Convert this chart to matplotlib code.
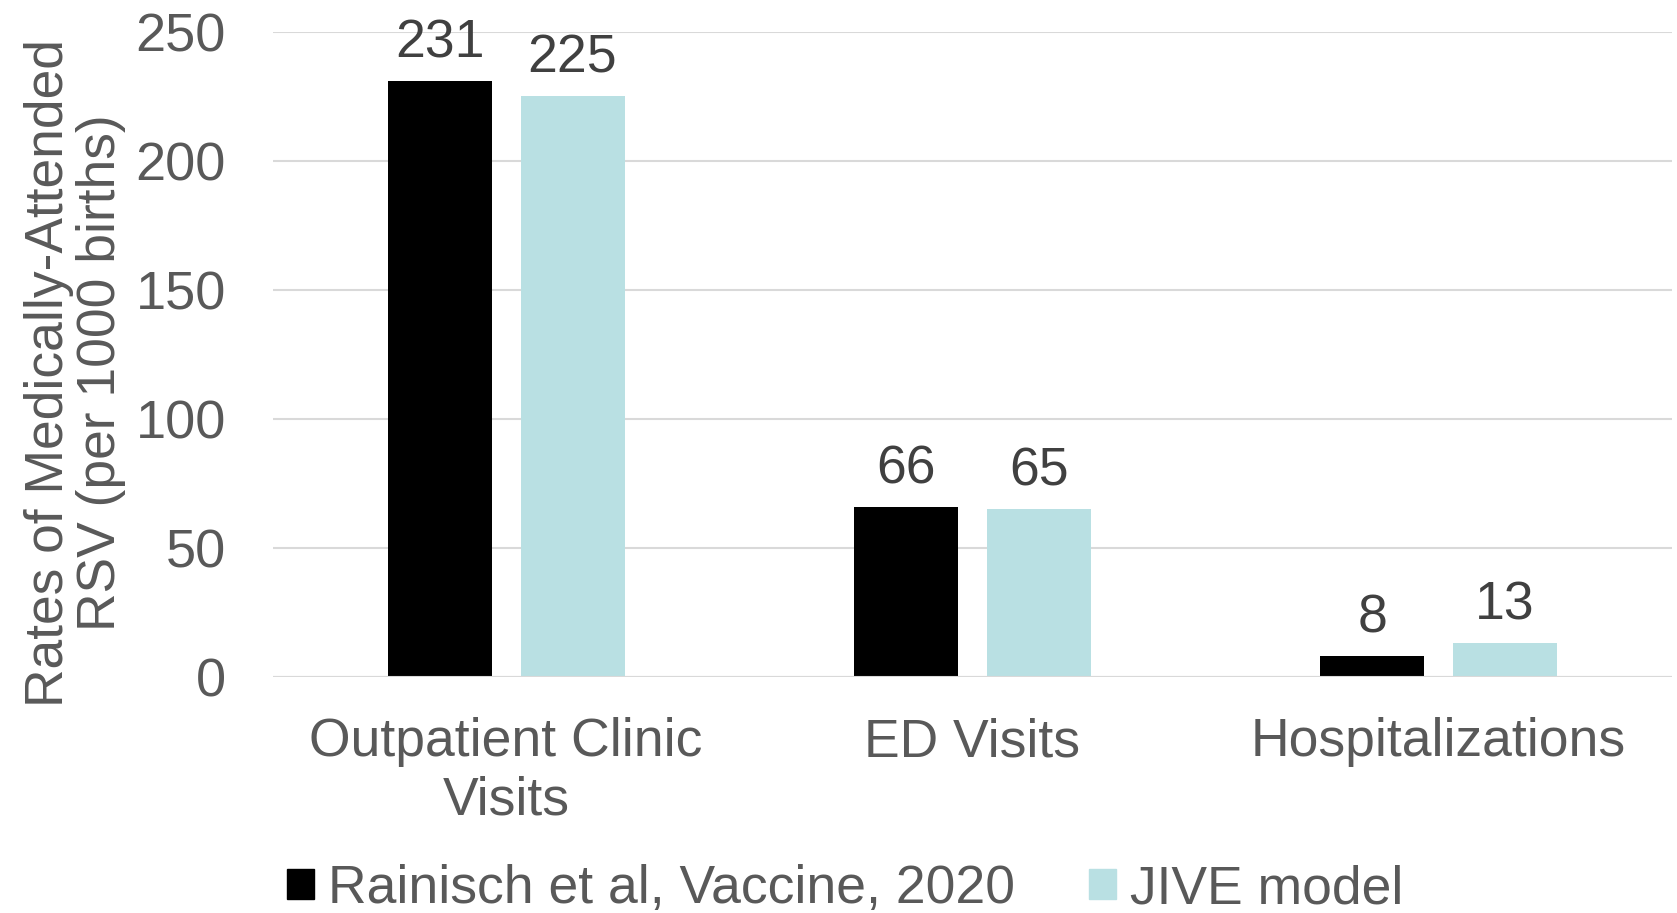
import matplotlib
matplotlib.use('Agg')
import matplotlib.pyplot as plt
import numpy as np
from matplotlib.patches import Patch

# data
categories = ['Outpatient Clinic\nVisits', 'ED Visits', 'Hospitalizations']
rainisch = [231, 66, 8]
jive = [225, 65, 13]
series_names = ['Rainisch et al, Vaccine, 2020', 'JIVE model']
y_ticks = [0, 50, 100, 150, 200, 250]

grey = '#595959'
dark = '#404040'
cyan = '#B9E0E3'
font = ['Liberation Sans', 'DejaVu Sans']

fig = plt.figure(figsize=(16.77, 9.13), dpi=100)
ax = fig.add_axes([0.1628, 0.2585, 0.834, 0.7065])

x = np.arange(len(categories))
w = 0.223
off = 0.1425
b1 = ax.bar(x - off, rainisch, w, color='black', zorder=3)
b2 = ax.bar(x + off, jive, w, color=cyan, zorder=3)

for bars, vals in ((b1, rainisch), (b2, jive)):
    for rect, v in zip(bars, vals):
        ax.annotate(str(v), (rect.get_x() + rect.get_width() / 2, v),
                    xytext=(0, 9), textcoords='offset points',
                    ha='center', va='bottom', fontsize=38.5,
                    color=dark, family=font)

ax.set_xlim(-0.5, 2.5)
ax.set_ylim(0, 250)
ax.set_yticks(y_ticks)
ax.set_yticklabels([str(t) for t in y_ticks], fontsize=39, color=grey,
                   family=font)
ax.set_xticks(x)
ax.set_xticklabels(categories, fontsize=38.5, color=grey, family=font,
                   linespacing=1.22)
ax.tick_params(axis='y', length=0, pad=34)
ax.tick_params(axis='x', length=0, pad=29)
ax.yaxis.grid(True, color='#D9D9D9', linewidth=1.5, zorder=0)
for s in ax.spines.values():
    s.set_visible(False)
ax.axhline(0, color='#D9D9D9', linewidth=1.5, zorder=4)

fig.text(75 / 1677, 1 - 373 / 913,
         'Rates of Medically-Attended\nRSV (per 1000 births)',
         rotation=90, ha='center', va='center', fontsize=38.4, color=grey,
         family=font, linespacing=1.05)

handles = [Patch(color='black'), Patch(color=cyan)]
leg = fig.legend(handles, series_names, loc='center',
                 bbox_to_anchor=(0.504, 1 - 889 / 913), ncol=2, frameon=False,
                 prop={'family': font, 'size': 38.5}, handlelength=0.5,
                 handleheight=0.5, handletextpad=0.25, columnspacing=1.4)
for t in leg.get_texts():
    t.set_color(grey)

fig.savefig('out.png', dpi=100)
